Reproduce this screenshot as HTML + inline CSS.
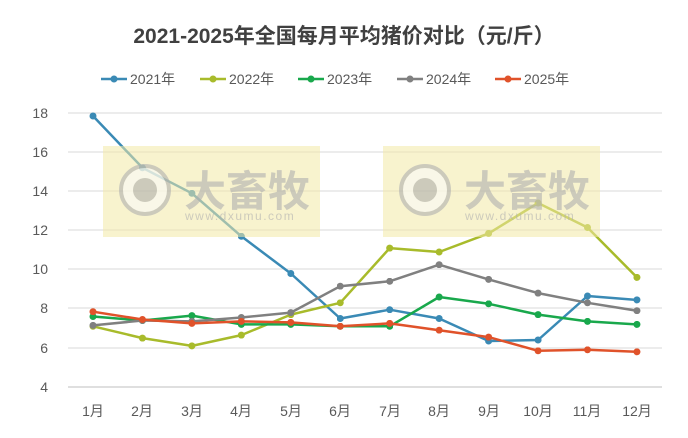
<!DOCTYPE html><html><head><meta charset="utf-8"><style>body{margin:0;background:#fff}</style></head><body>
<svg width="688" height="433" xmlns="http://www.w3.org/2000/svg" font-family="Liberation Sans, Noto Sans CJK SC, sans-serif">
<defs>
<marker id="m1" viewBox="0 0 10 10" refX="5" refY="5" markerWidth="7" markerHeight="7" markerUnits="userSpaceOnUse"><circle cx="5" cy="5" r="5" fill="#3a8ab5"/></marker>
<marker id="m2" viewBox="0 0 10 10" refX="5" refY="5" markerWidth="7" markerHeight="7" markerUnits="userSpaceOnUse"><circle cx="5" cy="5" r="5" fill="#a8bb2b"/></marker>
<marker id="m3" viewBox="0 0 10 10" refX="5" refY="5" markerWidth="7" markerHeight="7" markerUnits="userSpaceOnUse"><circle cx="5" cy="5" r="5" fill="#19a84c"/></marker>
<marker id="m4" viewBox="0 0 10 10" refX="5" refY="5" markerWidth="7" markerHeight="7" markerUnits="userSpaceOnUse"><circle cx="5" cy="5" r="5" fill="#808080"/></marker>
<marker id="m5" viewBox="0 0 10 10" refX="5" refY="5" markerWidth="7" markerHeight="7" markerUnits="userSpaceOnUse"><circle cx="5" cy="5" r="5" fill="#e0522a"/></marker>
</defs>
<rect width="688" height="433" fill="#fff"/>
<text x="344" y="43" text-anchor="middle" font-size="21" font-weight="bold" fill="#404040">2021-2025年全国每月平均猪价对比（元/斤）</text>
<g font-size="14" fill="#595959">
<line x1="101" y1="79" x2="127" y2="79" stroke="#3a8ab5" stroke-width="2.5"/><circle cx="114" cy="79" r="3.5" fill="#3a8ab5"/><text x="130" y="84">2021年</text>
<line x1="200" y1="79" x2="226" y2="79" stroke="#a8bb2b" stroke-width="2.5"/><circle cx="213" cy="79" r="3.5" fill="#a8bb2b"/><text x="229" y="84">2022年</text>
<line x1="298" y1="79" x2="324" y2="79" stroke="#19a84c" stroke-width="2.5"/><circle cx="311" cy="79" r="3.5" fill="#19a84c"/><text x="327" y="84">2023年</text>
<line x1="397" y1="79" x2="423" y2="79" stroke="#808080" stroke-width="2.5"/><circle cx="410" cy="79" r="3.5" fill="#808080"/><text x="426" y="84">2024年</text>
<line x1="495" y1="79" x2="521" y2="79" stroke="#e0522a" stroke-width="2.5"/><circle cx="508" cy="79" r="3.5" fill="#e0522a"/><text x="524" y="84">2025年</text>
</g>
<g stroke="#d9d9d9" stroke-width="1">
<line x1="68" x2="662" y1="113" y2="113"/><line x1="68" x2="662" y1="152" y2="152"/><line x1="68" x2="662" y1="191" y2="191"/><line x1="68" x2="662" y1="230" y2="230"/><line x1="68" x2="662" y1="269" y2="269"/><line x1="68" x2="662" y1="308" y2="308"/><line x1="68" x2="662" y1="348" y2="348"/>
</g>
<line x1="68" x2="662" y1="387" y2="387" stroke="#bfbfbf"/>
<g font-size="14" fill="#595959" text-anchor="end">
<text x="48" y="118">18</text><text x="48" y="157">16</text><text x="48" y="196">14</text><text x="48" y="235">12</text><text x="48" y="274">10</text><text x="48" y="313">8</text><text x="48" y="353">6</text><text x="48" y="392">4</text>
</g>
<g font-size="14" fill="#595959" text-anchor="middle">
<text x="93" y="416">1月</text><text x="142" y="416">2月</text><text x="192" y="416">3月</text><text x="241" y="416">4月</text><text x="291" y="416">5月</text><text x="340" y="416">6月</text><text x="390" y="416">7月</text><text x="439" y="416">8月</text><text x="489" y="416">9月</text><text x="538" y="416">10月</text><text x="587" y="416">11月</text><text x="637" y="416">12月</text>
</g>
<g fill="none" stroke-width="2.5" stroke-linejoin="round">
<polyline stroke="#3a8ab5" marker-start="url(#m1)" marker-mid="url(#m1)" marker-end="url(#m1)" points="93,116 142.45,167.8 191.9,193.3 241.35,236.3 290.8,273.5 340.25,318.5 389.7,309.7 439.15,318.5 488.6,341 538.05,340 587.5,296 636.95,299.9"/>
<polyline stroke="#a8bb2b" marker-start="url(#m2)" marker-mid="url(#m2)" marker-end="url(#m2)" points="93,326.3 142.45,338.1 191.9,345.9 241.35,335.1 290.8,314.6 340.25,302.8 389.7,248.1 439.15,252 488.6,233.4 538.05,203 587.5,227.5 636.95,277.4"/>
<polyline stroke="#19a84c" marker-start="url(#m3)" marker-mid="url(#m3)" marker-end="url(#m3)" points="93,316.5 142.45,320.5 191.9,315.6 241.35,324.4 290.8,324.4 340.25,326.3 389.7,326.3 439.15,297 488.6,303.8 538.05,314.6 587.5,321.4 636.95,324.4"/>
<polyline stroke="#808080" marker-start="url(#m4)" marker-mid="url(#m4)" marker-end="url(#m4)" points="93,325.4 142.45,320.5 191.9,321.4 241.35,317.5 290.8,312.6 340.25,286.2 389.7,281.3 439.15,264.7 488.6,279.4 538.05,293.1 587.5,302.8 636.95,310.7"/>
<polyline stroke="#e0522a" marker-start="url(#m5)" marker-mid="url(#m5)" marker-end="url(#m5)" points="93,311.7 142.45,319.5 191.9,323.4 241.35,321.4 290.8,322.4 340.25,326.3 389.7,323.4 439.15,330.2 488.6,337.1 538.05,350.8 587.5,349.8 636.95,351.8"/>
</g>
<g opacity="0.55">
<rect x="103" y="146" width="217" height="91" fill="#f3e9a6"/>
<rect x="383" y="146" width="217" height="91" fill="#f3e9a6"/>
</g>
<g opacity="0.6" fill="#b0b0b0">
<circle cx="145" cy="190" r="24" fill="#fafafa" stroke="#b0b0b0" stroke-width="4"/><circle cx="145" cy="190" r="12"/>
<text x="184" y="206" font-size="42" font-weight="bold">大畜牧</text>
<text x="185" y="220" font-size="12" letter-spacing="1.5">www.dxumu.com</text>
<circle cx="425" cy="190" r="24" fill="#fafafa" stroke="#b0b0b0" stroke-width="4"/><circle cx="425" cy="190" r="12"/>
<text x="464" y="206" font-size="42" font-weight="bold">大畜牧</text>
<text x="465" y="220" font-size="12" letter-spacing="1.5">www.dxumu.com</text>
</g>
</svg>
</body></html>
